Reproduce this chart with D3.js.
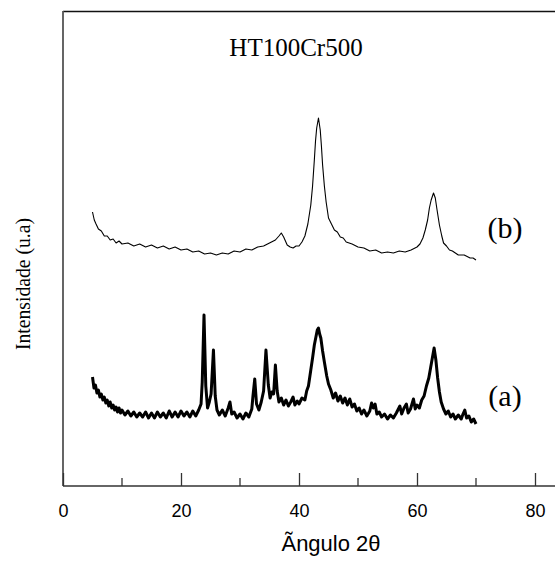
<!DOCTYPE html>
<html>
<head>
<meta charset="utf-8">
<script src="https://cdn.jsdelivr.net/npm/d3@7"></script>
<style>
  body { margin: 0; background: #fff; }
  svg { display: block; }
</style>
</head>
<body>
<script>
// XRD patterns (intensity in arbitrary units)
var angleA = [5, 5.25, 5.5, 5.75, 6, 6.25, 6.5, 6.75, 7, 7.25, 7.5, 7.75, 8, 8.25, 8.5, 8.75, 9, 9.25, 9.5, 9.75,
  10, 10.5, 11, 11.5, 12, 12.5, 13, 13.5, 14, 14.5, 15, 15.5, 16, 16.5, 17, 17.5, 18, 18.5, 19, 19.5,
  20, 20.5, 21, 21.5, 22, 22.5, 23, 23.4, 23.6, 23.9, 24.2, 24.5, 24.8, 25.1, 25.5, 25.8, 26.1, 26.5, 27, 27.5,
  28, 28.3, 28.6, 29, 29.5, 30, 30.5, 31, 31.5, 32, 32.2, 32.5, 32.8, 33.2, 33.6, 34.0, 34.4, 34.8, 35.1, 35.4,
  35.7, 36.0, 36.3, 36.6, 37, 37.4, 37.8, 38.2, 38.6, 39.0, 39.3, 39.7, 40, 40.5, 41, 41.3, 41.6, 42, 42.3, 42.6,
  42.9, 43.1, 43.3, 43.5, 43.7, 44.0, 44.3, 44.7, 45, 45.4, 45.8, 46.2, 46.6, 47, 47.4, 47.8, 48.2, 48.6, 49, 49.4,
  49.8, 50.2, 50.6, 51, 51.5, 52, 52.3, 52.6, 52.9, 53.2, 53.6, 54, 54.5, 55, 55.5, 56, 56.5, 57.1, 57.4, 57.8,
  58.2, 58.5, 58.9, 59.4, 59.7, 60, 60.4, 60.8, 61.2, 61.6, 62, 62.3, 62.6, 62.9, 63.2, 63.5, 63.8, 64.1, 64.5, 64.9,
  65.3, 65.7, 66.1, 66.5, 67, 67.5, 67.8, 68.1, 68.4, 68.8, 69.2, 69.6, 70];
var intensA = [109, 98, 101, 93, 96, 89, 92, 86, 89, 83, 86, 80, 84, 78, 81, 76, 79, 74, 78, 73,
  76, 71, 75, 70, 74, 69, 73, 69, 74, 68, 73, 68, 74, 69, 73, 68, 75, 69, 74, 69,
  75, 70, 74, 69, 75, 70, 76, 82, 104, 171, 100, 78, 84, 92, 136, 90, 76, 71, 76, 70,
  78, 84, 72, 74, 68, 72, 67, 73, 69, 77, 90, 107, 82, 76, 84, 95, 136, 101, 88, 94,
  92, 121, 95, 84, 88, 81, 86, 80, 84, 89, 81, 85, 82, 88, 86, 95, 100, 116, 128, 141,
  150, 156, 158, 152, 148, 135, 124, 110, 102, 96, 88, 93, 85, 90, 83, 88, 81, 87, 79, 82,
  75, 78, 72, 76, 70, 75, 83, 78, 82, 72, 74, 69, 72, 67, 71, 68, 73, 80, 72, 78,
  82, 73, 77, 87, 77, 81, 78, 86, 90, 100, 108, 118, 128, 138, 126, 108, 94, 84, 77, 72,
  75, 69, 72, 67, 71, 67, 72, 76, 68, 70, 64, 67, 62];

var angleB = [5, 5.3, 5.6, 6, 6.5, 7, 7.5, 8, 8.5, 9, 9.5, 10, 11, 12, 13, 14, 15, 16, 17, 18,
  19, 20, 21, 22, 23, 24, 25, 26, 27, 28, 29, 30, 31, 32, 33, 34, 35, 36, 36.6, 37,
  37.4, 38, 38.5, 39, 39.5, 40, 40.5, 41, 41.5, 42, 42.3, 42.6, 42.8, 43.0, 43.3, 43.6, 43.8, 44.0, 44.3, 44.6,
  45, 45.5, 46, 46.5, 47, 47.5, 48, 49, 50, 51, 52, 53, 54, 55, 56, 57, 58, 59, 60, 60.5,
  61, 61.4, 61.8, 62.1, 62.4, 62.8, 63.1, 63.4, 63.8, 64.2, 64.5, 65, 65.5, 66, 67, 68, 69, 69.5, 70];
var intensB = [274, 266, 262, 257, 255, 250, 250, 246, 247, 243, 245, 242, 243, 240, 242, 239, 241, 238, 240, 237,
  239, 236, 237, 234, 235, 232, 233, 231, 233, 232, 235, 234, 237, 236, 239, 240, 243, 246, 250, 253,
  249, 241, 239, 238, 240, 240, 244, 250, 262, 281, 300, 326, 345, 358, 368, 356, 340, 321, 300, 284,
  268, 262, 256, 254, 249, 248, 244, 242, 239, 238, 235, 236, 233, 234, 233, 235, 234, 236, 239, 242,
  248, 256, 266, 278, 286, 293, 288, 276, 261, 250, 243, 240, 236, 235, 231, 231, 228, 228, 226];

var xTicks = [0, 20, 40, 60, 80];
var xMinor = [10, 30, 50, 70];

var W = 555, H = 563;
var svg = d3.select("body").append("svg")
  .attr("width", W)
  .attr("height", H);

// scales (axis originally ran 0-90, picture is cut at the right)
var x = d3.scaleLinear().domain([0, 90]).range([63, 63 + 90 * 5.9]);
var y = d3.scaleLinear().domain([0, 475]).range([486, 11]);

// frame: top and left
svg.append("line")
  .attr("x1", 63).attr("x2", W)
  .attr("y1", 11.5).attr("y2", 11.5)
  .attr("stroke", "#111").attr("stroke-width", 1.3);
svg.append("line")
  .attr("x1", 63).attr("x2", 63)
  .attr("y1", 11).attr("y2", 486)
  .attr("stroke", "#555").attr("stroke-width", 1.8);

// bottom axis with inward ticks
var xAxis = d3.axisBottom(x)
  .tickValues(xTicks)
  .tickSizeInner(-13)
  .tickSizeOuter(0)
  .tickPadding(18)
  .tickFormat(d3.format("d"));

var gx = svg.append("g")
  .attr("transform", "translate(0,486)")
  .call(xAxis);
gx.select(".domain").attr("stroke", "#333").attr("stroke-width", 1.3)
  .attr("d", "M63,0H" + W);
gx.selectAll(".tick line").attr("stroke", "#333").attr("stroke-width", 1.3);
gx.selectAll(".tick text")
  .attr("fill", "#000")
  .style("font-family", "'Liberation Sans', Arial, sans-serif")
  .style("font-size", "18px");

gx.selectAll(".minor")
  .data(xMinor)
  .enter().append("line")
  .attr("class", "minor")
  .attr("x1", function(d) { return x(d); })
  .attr("x2", function(d) { return x(d); })
  .attr("y1", 0).attr("y2", -8)
  .attr("stroke", "#333").attr("stroke-width", 1.3);

// lines
var line = d3.line()
  .x(function(d) { return x(d[0]); })
  .y(function(d) { return y(d[1]); });

svg.append("path")
  .datum(d3.zip(angleB, intensB))
  .attr("fill", "none")
  .attr("stroke", "#000")
  .attr("stroke-width", 1.1)
  .attr("stroke-linejoin", "round")
  .attr("d", line);

// sample (a) is very noisy: drawn as a thick band
svg.append("path")
  .datum(d3.zip(angleA, intensA))
  .attr("fill", "none")
  .attr("stroke", "#000")
  .attr("stroke-width", 3)
  .attr("stroke-linejoin", "round")
  .attr("d", line);

// texts
var serif = "'Liberation Serif', 'Times New Roman', serif";

svg.append("text")
  .attr("x", 296).attr("y", 56)
  .attr("text-anchor", "middle")
  .style("font-family", serif)
  .style("font-size", "25px")
  .text("HT100Cr500");

svg.append("text")
  .attr("x", 505).attr("y", 238)
  .attr("text-anchor", "middle")
  .style("font-family", serif)
  .style("font-size", "30px")
  .text("(b)");

svg.append("text")
  .attr("x", 505).attr("y", 406)
  .attr("text-anchor", "middle")
  .style("font-family", serif)
  .style("font-size", "30px")
  .text("(a)");

svg.append("text")
  .attr("transform", "translate(30,284) rotate(-90)")
  .attr("text-anchor", "middle")
  .attr("textLength", 132)
  .attr("lengthAdjust", "spacingAndGlyphs")
  .style("font-family", serif)
  .style("font-size", "21px")
  .text("Intensidade (u.a)");

svg.append("text")
  .attr("x", 331).attr("y", 551)
  .attr("text-anchor", "middle")
  .style("font-family", "'Liberation Sans', Arial, sans-serif")
  .style("font-size", "22px")
  .text("Ãngulo 2θ");
</script>
</body>
</html>
